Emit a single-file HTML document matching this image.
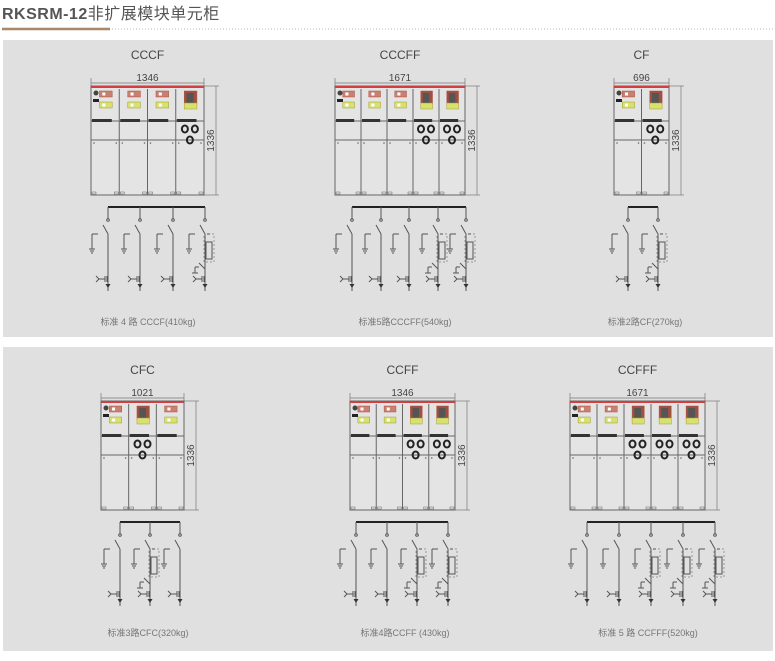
<!DOCTYPE html>
<html><head><meta charset="utf-8"><style>
html,body{margin:0;padding:0;background:#fff;width:775px;height:661px;overflow:hidden}
svg{display:block}
text{font-family:"Liberation Sans","Noto Sans CJK SC",sans-serif}
</style></head><body>
<svg id="s" width="775" height="661" viewBox="0 0 775 661" xmlns="http://www.w3.org/2000/svg">
<text x="2" y="19" font-size="16" fill="#555" font-weight="bold" letter-spacing="0.5">RKSRM-12<tspan font-weight="normal">非扩展模块单元柜</tspan></text>
<line x1="2" y1="29" x2="110" y2="29" stroke="#a88868" stroke-width="2.5"/>
<line x1="112" y1="29" x2="775" y2="29" stroke="#bbb" stroke-width="1" stroke-dasharray="1,2"/>
<rect x="3" y="40" width="770" height="297" fill="#e0e0e0"/>
<rect x="3" y="347" width="770" height="304" fill="#e0e0e0"/>
<g id="g"></g>
</svg>
<script>
var o='';
function L(a,b,c,d,w,col,da){o+='<line x1="'+a+'" y1="'+b+'" x2="'+c+'" y2="'+d+'" stroke="'+(col||'#666')+'" stroke-width="'+(w||1)+'"'+(da?' stroke-dasharray="'+da+'"':'')+'/>';}
function R(x,y,w,h,f,s,sw,da){o+='<rect x="'+x+'" y="'+y+'" width="'+w+'" height="'+h+'" fill="'+(f||'none')+'" stroke="'+(s||'none')+'" stroke-width="'+(sw||1)+'"'+(da?' stroke-dasharray="'+da+'"':'')+'/>';}
function T(x,y,t,sz,col,extra){o+='<text x="'+x+'" y="'+y+'" font-size="'+sz+'" fill="'+(col||'#555')+'" text-anchor="middle" '+(extra||'')+'>'+t+'</text>';}
function cab(cfg){
 var x0=cfg.x0,x1=cfg.x1,t=cfg.top,types=cfg.types,n=types.length,cw=(x1-x0)/n;
 var u=t+26,d=t+54,b=t+109;
 T((x0+x1)/2,t-27,cfg.name,12,'#444');
 T((x0+x1)/2,t-5,cfg.w,10,'#444');
 L(x0,t-3,x1,t-3,0.7,'#777');L(x0,t-8,x0,t+2,0.7,'#777');L(x1,t-8,x1,t+2,0.7,'#777');
 var dx=x1+12;L(dx,t,dx,b,0.7,'#777');L(x1,t,dx+3,t,0.7,'#777');L(x1,b,dx+3,b,0.7,'#777');
 T(0,0,'1336',10,'#444','transform="translate('+(dx-2)+','+((t+b)/2)+') rotate(-90)"');
 R(x0,t,x1-x0,b-t,'#e4e4e4','#666',1);
 L(x0,t+1,x1,t+1,2,'#d04040');
 L(x0,u+9,x1,u+9,1,'#666');L(x0,d,x1,d,1,'#666');
 for(var i=0;i<n;i++){
  var cx=x0+i*cw;
  if(i>0)L(cx,t+3,cx,b,1,'#666');
  R(cx+1,u+7,cw*0.7,3,'#333');
  if(types[i]=='C'){
   if(i==0){o+='<circle cx="'+(cx+5)+'" cy="'+(t+7)+'" r="2.5" fill="#444"/>';R(cx+2,t+13,6,3,'#222');}
   R(cx+cw*0.3,t+5,cw*0.45,6,'#c98070','#b05040',0.5);
   R(cx+cw*0.3,t+16,cw*0.45,6,'#d8e070','#a0a030',0.5);
   R(cx+cw*0.4,t+6.5,3,3,'#fff');R(cx+cw*0.4,t+17.5,3,3,'#fff');
  }else{
   R(cx+cw*0.3,t+5,cw*0.45,13,'#a05040','#b05040',0.5);
   R(cx+cw*0.38,t+7,cw*0.25,10,'#555');
   R(cx+cw*0.3,t+17,cw*0.45,6,'#d8e070','#a0a030',0.5);
   var m=cx+cw/2;
   o+='<ellipse cx="'+(m-5)+'" cy="'+(u+17)+'" rx="3" ry="3.5" fill="none" stroke="#222" stroke-width="2"/>';
   o+='<ellipse cx="'+(m+5)+'" cy="'+(u+17)+'" rx="3" ry="3.5" fill="none" stroke="#222" stroke-width="2"/>';
   o+='<ellipse cx="'+m+'" cy="'+(u+28)+'" rx="3" ry="3.5" fill="none" stroke="#222" stroke-width="2"/>';
  }
  o+='<circle cx="'+(cx+3)+'" cy="'+(d+3)+'" r="0.8" fill="#666"/><circle cx="'+(cx+cw-3)+'" cy="'+(d+3)+'" r="0.8" fill="#666"/>';
  R(cx+1,b-3,4,2,'none','#666',0.5);R(cx+cw-5,b-3,4,2,'none','#666',0.5);
 }
 // single line
 var B=b+12,bx=cfg.bx,sp=cfg.sp;
 L(bx[0],B,bx[bx.length-1],B,2,'#222');
 for(i=0;i<n;i++){
  var x=bx[i],F=types[i]=='F',e=B+84;
  L(x,B,x,B+12,1,'#555');o+='<circle cx="'+x+'" cy="'+(B+13)+'" r="1.3" fill="none" stroke="#555"/>';
  L(x-5,B+18,x,B+27,1,'#555');L(x,B+27,x,e,1,'#555');
  var ex=x-16;L(ex,B+27,ex+6,B+27,1,'#555');L(ex,B+27,ex,B+42,1,'#555');L(ex-3,B+42,ex+3,B+42,1,'#555');L(ex-2,B+44,ex+2,B+44,1,'#555');L(ex-1,B+46,ex+1,B+46,1,'#555');
  if(F){R(x+1,B+35,6,17,'none','#555',1);R(x-1,B+27,10,28,'none','#999',1,'2,2');L(x+2,B+27,x+5,B+27,1,'#555');
   L(x-6,B+56,x,B+62,1,'#555');L(x-10,B+60,x-6,B+60,1,'#555');L(x-10,B+60,x-10,B+66,1,'#555');L(x-13,B+66,x-7,B+66,1,'#555');}
  L(x-9,B+72,x-3,B+72,1,'#555');L(x-3,B+69,x-3,B+75,1,'#555');L(x-1,B+69,x-1,B+75,1,'#555');L(x-1,B+72,x,B+72,1,'#555');L(x-12,B+69,x-9,B+72,1,'#555');L(x-12,B+75,x-9,B+72,1,'#555');
  o+='<polygon points="'+(x-2.5)+','+(B+77)+' '+(x+2.5)+','+(B+77)+' '+x+','+(B+81)+'" fill="#333"/>';
 }
 T(cfg.cap,cfg.cy,cfg.label,9,'#777');
}
function ev(a,b2,n){var r=[];for(var i=0;i<n;i++)r.push(Math.round(a+(b2-a)*i/(n-1)));return r;}
cab({name:'CCCF',w:'1346',x0:91,x1:204,top:86,types:'CCCF'.split(''),bx:ev(108,205,4),cap:148,cy:325,label:'标准 4 路 CCCF(410kg)'});
cab({name:'CCCFF',w:'1671',x0:335,x1:465,top:86,types:'CCCFF'.split(''),bx:ev(352,466,5),cap:405,cy:325,label:'标准5路CCCFF(540kg)'});
cab({name:'CF',w:'696',x0:614,x1:669,top:86,types:'CF'.split(''),bx:[628,658],cap:645,cy:325,label:'标准2路CF(270kg)'});
cab({name:'CFC',w:'1021',x0:101,x1:184,top:401,types:'CFC'.split(''),bx:ev(120,180,3),cap:148,cy:636,label:'标准3路CFC(320kg)'});
cab({name:'CCFF',w:'1346',x0:350,x1:455,top:401,types:'CCFF'.split(''),bx:ev(356,448,4),cap:405,cy:636,label:'标准4路CCFF (430kg)'});
cab({name:'CCFFF',w:'1671',x0:570,x1:705,top:401,types:'CCFFF'.split(''),bx:ev(587,715,5),cap:648,cy:636,label:'标准 5 路 CCFFF(520kg)'});
document.getElementById('g').innerHTML=o;
</script>
</body></html>
